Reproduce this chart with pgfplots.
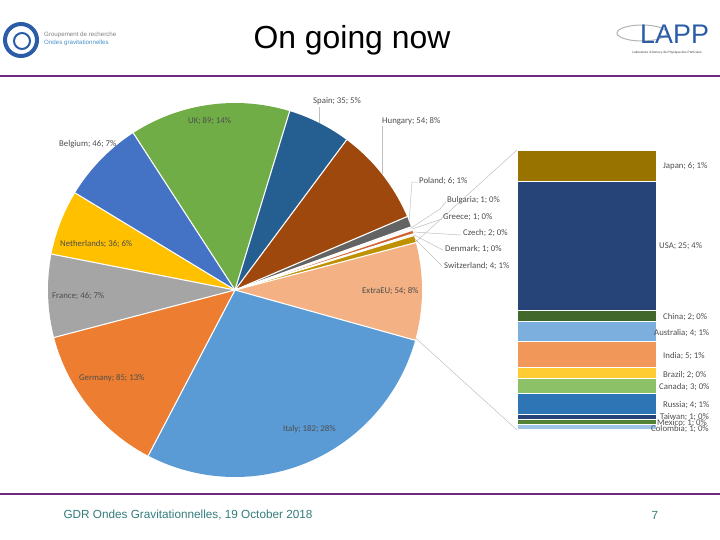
\documentclass[border=0pt]{standalone}
\usepackage{pgfplots}
\pgfplotsset{compat=1.18}
\usepackage{pgfplotstable}
\usepackage{fontspec}
\setmainfont{Liberation Sans}
\newfontfamily\carlito{Carlito}

\definecolor{cSpain}{HTML}{255E91}
\definecolor{cHungary}{HTML}{9E480E}
\definecolor{cPoland}{HTML}{636363}
\definecolor{cBulgaria}{HTML}{EDEDED}
\definecolor{cGreece}{HTML}{F5F5F5}
\definecolor{cCzech}{HTML}{D0612E}
\definecolor{cDenmark}{HTML}{F5F5F5}
\definecolor{cSwitzerland}{HTML}{BF9000}
\definecolor{cExtraEU}{HTML}{F4B183}
\definecolor{cItaly}{HTML}{5B9BD5}
\definecolor{cGermany}{HTML}{ED7D31}
\definecolor{cFrance}{HTML}{A5A5A5}
\definecolor{cNetherlands}{HTML}{FFC000}
\definecolor{cBelgium}{HTML}{4472C4}
\definecolor{cUK}{HTML}{70AD47}
\definecolor{cJapan}{HTML}{997300}
\definecolor{cUSA}{HTML}{264478}
\definecolor{cChina}{HTML}{43682B}
\definecolor{cAustralia}{HTML}{7CAFDD}
\definecolor{cIndia}{HTML}{F1975A}
\definecolor{cBrazil}{HTML}{FFCD33}
\definecolor{cCanada}{HTML}{8CC168}
\definecolor{cRussia}{HTML}{2E75B6}
\definecolor{cTaiwan}{HTML}{264478}
\definecolor{cMexico}{HTML}{548235}
\definecolor{cColombia}{HTML}{9DC3E6}
\definecolor{lblgray}{HTML}{4D4D4D}
\definecolor{leadgray}{HTML}{BFBFBF}
\definecolor{purpleline}{RGB}{112,40,128}
\definecolor{footteal}{HTML}{347C7C}
\definecolor{logoblue}{HTML}{2A5CA8}
\definecolor{logolight}{HTML}{4A90C8}

% pie data, clockwise from the start angle
\pgfplotstableread[col sep=comma]{
name,value,col
Spain,35,cSpain
Hungary,54,cHungary
Poland,6,cPoland
Bulgaria,1,cBulgaria
Greece,1,cGreece
Czech,2,cCzech
Denmark,1,cDenmark
Switzerland,4,cSwitzerland
ExtraEU,54,cExtraEU
Italy,182,cItaly
Germany,85,cGermany
France,46,cFrance
Netherlands,36,cNetherlands
Belgium,46,cBelgium
UK,89,cUK
}\pietable

\newcommand\lbl{\carlito\fontsize{8.8}{10}\selectfont}

\begin{document}
\begin{tikzpicture}
% bar of the ExtraEU slice
\begin{axis}[at={(517bp,110bp)}, anchor=south west, width=140bp, height=280bp, scale only axis,
  xmin=-0.5, xmax=0.5, ymin=0, ymax=54, hide axis, ybar stacked, bar width=140bp, clip=false]
  \addplot[fill=cColombia, draw=white, line width=1.2bp] coordinates {(0,1)};
  \addplot[fill=cMexico, draw=white, line width=1.2bp] coordinates {(0,1)};
  \addplot[fill=cTaiwan, draw=white, line width=1.2bp] coordinates {(0,1)};
  \addplot[fill=cRussia, draw=white, line width=1.2bp] coordinates {(0,4)};
  \addplot[fill=cCanada, draw=white, line width=1.2bp] coordinates {(0,3)};
  \addplot[fill=cBrazil, draw=white, line width=1.2bp] coordinates {(0,2)};
  \addplot[fill=cIndia, draw=white, line width=1.2bp] coordinates {(0,5)};
  \addplot[fill=cAustralia, draw=white, line width=1.2bp] coordinates {(0,4)};
  \addplot[fill=cChina, draw=white, line width=1.2bp] coordinates {(0,2)};
  \addplot[fill=cUSA, draw=white, line width=1.2bp] coordinates {(0,25)};
  \addplot[fill=cJapan, draw=white, line width=1.2bp] coordinates {(0,6)};
\end{axis}

\begin{axis}[at={(0,0)}, anchor=south west, width=720bp, height=540bp, scale only axis,
  xmin=0, xmax=720, ymin=0, ymax=540, y dir=reverse, hide axis, clip=false]
  \addplot[draw=none] coordinates {(0,0) (720,540)};
  % header / footer
  \draw[purpleline, line width=2.5bp] (axis cs:0,76) -- (axis cs:720,76);
  \draw[purpleline, line width=2.5bp] (axis cs:0,494) -- (axis cs:720,494);
  \node[font=\fontsize{32}{36}\selectfont, text=black] at (axis cs:352,40) {On going now};
  \node[anchor=west, font=\fontsize{11.8}{14}\selectfont, text=footteal] at (axis cs:60,515) {GDR Ondes Gravitationnelles, 19 October 2018};
  \node[font=\fontsize{11.8}{14}\selectfont, text=footteal] at (axis cs:655,515) {7};
  % left logo
  \draw[logoblue, line width=4bp] (axis cs:21,40) circle[radius=16bp];
  \draw[logoblue, line width=2bp] (axis cs:22,41) circle[radius=8bp];
  \node[anchor=west, inner sep=0pt, font=\fontsize{6.2}{7}\selectfont, text=gray] at (axis cs:44,35) {Groupement de recherche};
  \node[anchor=west, inner sep=0pt, font=\fontsize{6.2}{7}\selectfont, text=logolight] at (axis cs:44,43) {Ondes gravitationnelles};
  % right logo
  \draw[gray!60, line width=1bp] (axis cs:642,33) ellipse[x radius=25bp, y radius=8bp];
  \node[anchor=west, inner sep=0pt, font=\fontsize{27}{30}\selectfont, text=logoblue] at (axis cs:640,34) {LAPP};
  \node[inner sep=0pt, font=\fontsize{3.2}{4}\selectfont, text=darkgray] at (axis cs:667,53) {Laboratoire d'Annecy de Physique des Particules};

  % pie
  \pgfplotstablegetrowsof{\pietable}\pgfmathtruncatemacro\nrows{\pgfplotsretval-1}
  \def\total{0}
  \pgfplotsforeachungrouped \i in {0,...,\nrows}{%
    \pgfplotstablegetelem{\i}{value}\of\pietable
    \pgfmathsetmacro\total{\total+\pgfplotsretval}%
  }
  \def\cum{17}
  \pgfplotsforeachungrouped \i in {0,...,\nrows}{%
    \pgfplotstablegetelem{\i}{value}\of\pietable \let\pval\pgfplotsretval
    \pgfplotstablegetelem{\i}{col}\of\pietable \let\pcol\pgfplotsretval
    \pgfmathsetmacro\angA{90-\cum}%
    \pgfmathsetmacro\cum{\cum+\pval/\total*360}%
    \pgfmathsetmacro\angB{90-\cum}%
    \edef\tmp{\noexpand\fill[\pcol] (axis cs:235,290) -- ++(\angA:187bp) arc[start angle=\angA, end angle=\angB, radius=187bp] -- cycle;}%
    \tmp
  }
  \def\cum{17}
  \pgfplotsforeachungrouped \i in {0,...,\nrows}{%
    \pgfplotstablegetelem{\i}{value}\of\pietable \let\pval\pgfplotsretval
    \pgfmathsetmacro\angA{90-\cum}%
    \pgfmathsetmacro\cum{\cum+\pval/\total*360}%
    \edef\tmp{\noexpand\draw[white, line width=1.1bp] (axis cs:235,290) -- ++(\angA:187bp);}%
    \tmp
  }

  % connectors to the bar
  \draw[leadgray, line width=0.5bp] (axis cs:415.6,242) -- (axis cs:517,150);
  \draw[leadgray, line width=0.5bp] (axis cs:415.6,338) -- (axis cs:517,430);

  % leader lines
  \draw[leadgray, line width=0.5bp] (axis cs:319,107) -- (axis cs:319,123);
  \draw[leadgray, line width=0.5bp] (axis cs:382,126) -- (axis cs:382,174);
  \draw[leadgray, line width=0.5bp] (axis cs:409,222) -- (axis cs:412,182) -- (axis cs:418,182);
  \draw[leadgray, line width=0.5bp] (axis cs:411,228) -- (axis cs:440,209) -- (axis cs:446,202);
  \draw[leadgray, line width=0.5bp] (axis cs:412,229) -- (axis cs:442,219);
  \draw[leadgray, line width=0.5bp] (axis cs:413,232) -- (axis cs:461,235);
  \draw[leadgray, line width=0.5bp] (axis cs:414,235) -- (axis cs:443,250);
  \draw[leadgray, line width=0.5bp] (axis cs:415,239) -- (axis cs:442,266);

  % pie labels
  \begin{scope}[every node/.style={anchor=west, font=\lbl, text=lblgray, inner sep=0pt}]
  \node at (axis cs:313,101) {Spain; 35; 5\%};
  \node at (axis cs:382,121) {Hungary; 54; 8\%};
  \node at (axis cs:419,181) {Poland; 6; 1\%};
  \node at (axis cs:447,200) {Bulgaria; 1; 0\%};
  \node at (axis cs:443,217) {Greece; 1; 0\%};
  \node at (axis cs:463,233) {Czech; 2; 0\%};
  \node at (axis cs:445,249) {Denmark; 1; 0\%};
  \node at (axis cs:444,266) {Switzerland; 4; 1\%};
  \node at (axis cs:362,291) {ExtraEU; 54; 8\%};
  \node at (axis cs:283,429) {Italy; 182; 28\%};
  \node at (axis cs:79,378) {Germany; 85; 13\%};
  \node at (axis cs:52,296) {France; 46; 7\%};
  \node at (axis cs:60,244) {Netherlands; 36; 6\%};
  \node at (axis cs:59,144) {Belgium; 46; 7\%};
  \node at (axis cs:188,121) {UK; 89; 14\%};
  % bar labels
  \node at (axis cs:663,166) {Japan; 6; 1\%};
  \node at (axis cs:659,246) {USA; 25; 4\%};
  \node at (axis cs:663,317) {China; 2; 0\%};
  \node at (axis cs:654,333) {Australia; 4; 1\%};
  \node at (axis cs:663,356) {India; 5; 1\%};
  \node at (axis cs:663,375) {Brazil; 2; 0\%};
  \node at (axis cs:659,387) {Canada; 3; 0\%};
  \node at (axis cs:663,405) {Russia; 4; 1\%};
  \node at (axis cs:660,417) {Taiwan; 1; 0\%};
  \node at (axis cs:657,423) {Mexico; 1; 0\%};
  \node at (axis cs:651,429) {Colombia; 1; 0\%};
  \end{scope}
\end{axis}
\pgfresetboundingbox
\path[use as bounding box] (0,0) rectangle (720bp,540bp);
\end{tikzpicture}
\end{document}
